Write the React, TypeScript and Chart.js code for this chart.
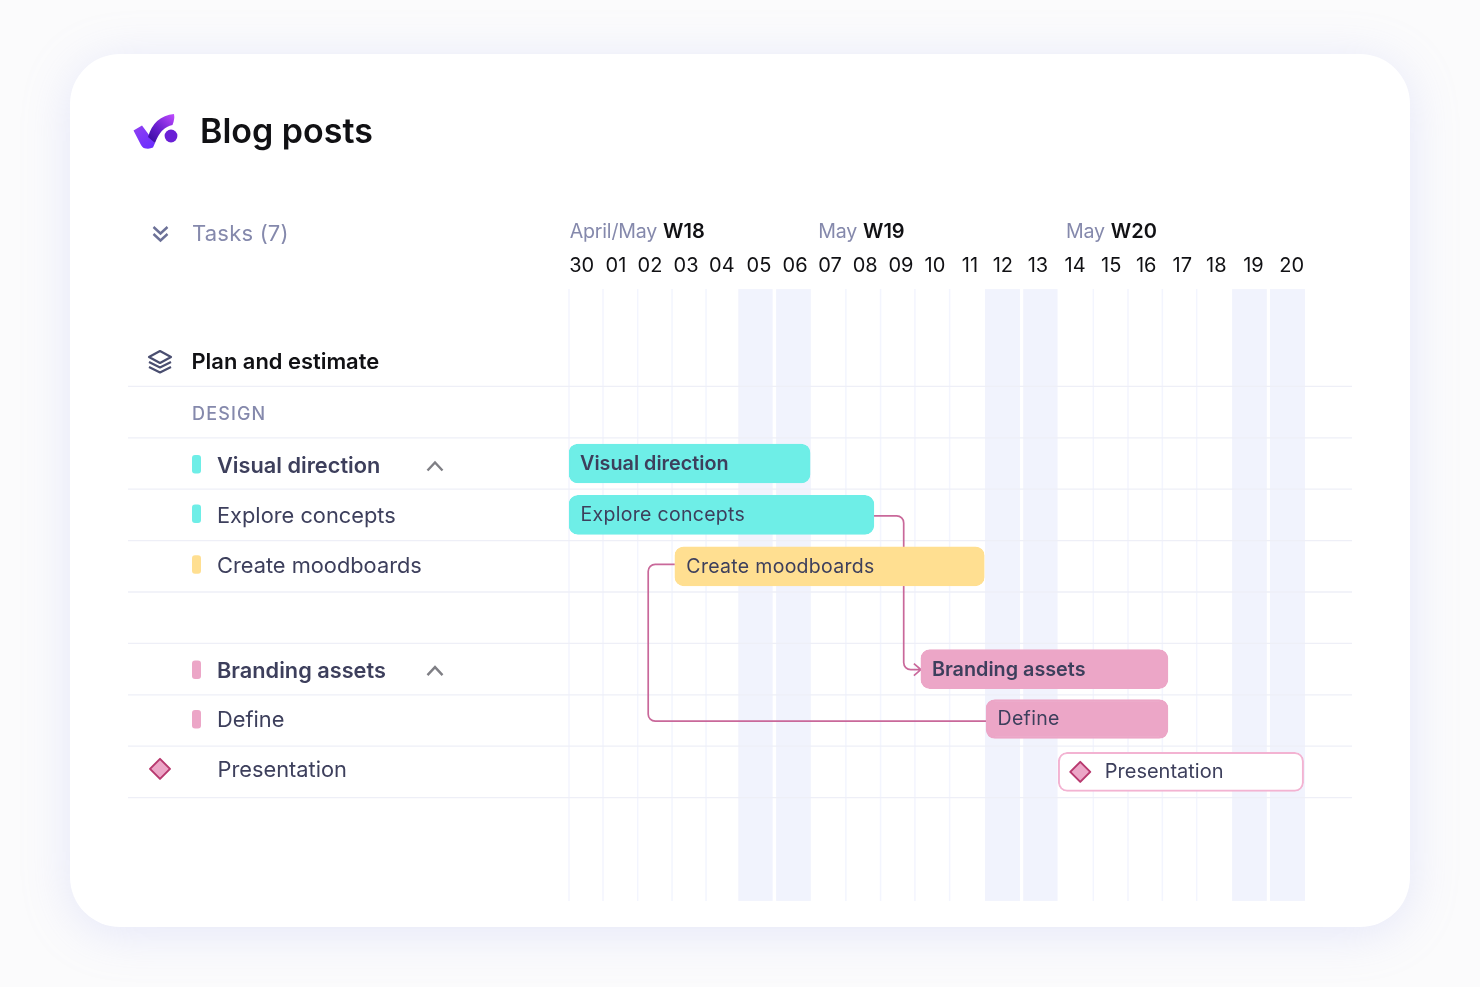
import React, { useEffect, useRef } from "react";
import { Chart, registerables } from "chart.js";

Chart.register(...registerables);

const rowLabels = ["", "Plan and estimate", "DESIGN", "Visual direction", "Explore concepts", "Create moodboards", "", "Branding assets", "Define", "Presentation", "", ""];
const rowKinds = ["none", "section", "caps", "group", "task", "task", "none", "group", "task", "milestone", "none", "none"];
const barRanges: ([number, number] | null)[] = [null, null, null, [0, 6.88], [0, 8.7], [3.02, 11.85], null, [10.04, 17.09], [11.9, 17.09], [13.96, 20.96], null, null];
const rowColors = ["", "", "", "#6eeee7", "#6eeee7", "#ffdf91", "", "#eca6c7", "#eca6c7", "#ffffff", "", ""];
const dayLabels = ["30", "01", "02", "03", "04", "05", "06", "07", "08", "09", "10", "11", "12", "13", "14", "15", "16", "17", "18", "19", "20"];
const dayTickValues = [0.36, 1.34, 2.31, 3.34, 4.36, 5.42, 6.45, 7.45, 8.45, 9.47, 10.44, 11.44, 12.38, 13.38, 14.44, 15.47, 16.47, 17.5, 18.47, 19.53, 20.62];
const gridDays = [0, 0.97, 1.96, 2.94, 3.91, 7.9, 8.89, 9.87, 10.86, 14.96, 15.95, 16.93, 17.91];
const weekendBands = [[4.83, 5.81], [5.91, 6.9], [11.87, 12.87], [12.96, 13.94], [18.92, 19.91], [20.0, 21.0]];
const rowRules = [1, 2, 3, 4, 5, 6, 7, 8, 9];
const weekHeaders = [
  { month: "April/May", week: "W18", at: 0.02 },
  { month: "May", week: "W19", at: 7.11 },
  { month: "May", week: "W20", at: 14.18 },
];

const FONT = "Inter, 'Noto Sans', sans-serif";
const INK = "#3d3f5c";
const MUTED = "#8589ac";
const LINK = "#c9689a";

function text(ctx: any, s: string, x: number, y: number, font: string, color: string, spacing = 0) {
  ctx.save();
  ctx.font = font;
  ctx.fillStyle = color;
  ctx.textAlign = "left";
  ctx.textBaseline = "middle";
  ctx.letterSpacing = spacing + "px";
  ctx.fillText(s, x, y);
  ctx.restore();
}

function diamond(ctx: any, cx: number, cy: number) {
  const r = 10;
  ctx.save();
  ctx.beginPath();
  ctx.moveTo(cx, cy - r);
  ctx.lineTo(cx + r, cy);
  ctx.lineTo(cx, cy + r);
  ctx.lineTo(cx - r, cy);
  ctx.closePath();
  ctx.lineJoin = "round";
  ctx.fillStyle = "#eca6c7";
  ctx.strokeStyle = "#b8396f";
  ctx.lineWidth = 2;
  ctx.fill();
  ctx.stroke();
  ctx.restore();
}

function chevronUp(ctx: any, cx: number, cy: number) {
  ctx.save();
  ctx.beginPath();
  ctx.moveTo(cx - 7.5, cy + 4.5);
  ctx.lineTo(cx, cy - 3.5);
  ctx.lineTo(cx + 7.5, cy + 4.5);
  ctx.strokeStyle = "#7f7f85";
  ctx.lineWidth = 2.4;
  ctx.stroke();
  ctx.restore();
}

function drawLogo(ctx: any) {
  ctx.save();
  const limb = ctx.createLinearGradient(135, 128, 150, 150);
  limb.addColorStop(0, "#8d3ff2");
  limb.addColorStop(1, "#6a2cff");
  ctx.beginPath();
  ctx.moveTo(133.5, 130.5);
  ctx.lineTo(142, 125.5);
  ctx.lineTo(155, 143);
  ctx.lineTo(153, 147.5);
  ctx.quadraticCurveTo(150, 149, 146, 148.5);
  ctx.quadraticCurveTo(143, 148.5, 141, 145);
  ctx.closePath();
  ctx.fillStyle = limb;
  ctx.fill();
  const rise = ctx.createLinearGradient(150, 143, 175, 115);
  rise.addColorStop(0, "#340a9c");
  rise.addColorStop(0.45, "#6a1fd0");
  rise.addColorStop(1, "#c04bff");
  ctx.beginPath();
  ctx.moveTo(148, 137);
  ctx.quadraticCurveTo(154, 116, 174, 114);
  ctx.quadraticCurveTo(175, 119, 172.5, 125);
  ctx.quadraticCurveTo(161, 127, 155, 143);
  ctx.closePath();
  ctx.fillStyle = rise;
  ctx.fill();
  ctx.beginPath();
  ctx.arc(171, 136, 6.4, 0, Math.PI * 2);
  ctx.fillStyle = "#6a20d6";
  ctx.fill();
  ctx.restore();
}

function drawHeaderIcons(ctx: any) {
  ctx.save();
  ctx.strokeStyle = "#6c7197";
  ctx.lineWidth = 2.4;
  for (const y of [227, 234]) {
    ctx.beginPath();
    ctx.moveTo(153.5, y);
    ctx.lineTo(160.5, y + 6.5);
    ctx.lineTo(167.5, y);
    ctx.stroke();
  }
  ctx.strokeStyle = "#4a4e70";
  ctx.lineWidth = 2.2;
  ctx.lineJoin = "round";
  ctx.beginPath();
  ctx.moveTo(160, 351);
  ctx.lineTo(171, 357);
  ctx.lineTo(160, 363);
  ctx.lineTo(149, 357);
  ctx.closePath();
  ctx.stroke();
  for (const y of [362, 367]) {
    ctx.beginPath();
    ctx.moveTo(149, y);
    ctx.lineTo(160, y + 5.5);
    ctx.lineTo(171, y);
    ctx.stroke();
  }
  ctx.restore();
}

const ganttDecor = {
  id: "ganttDecor",
  afterDatasetsUpdate(chart: any) {
    const bar = chart.getDatasetMeta(0).data[8];
    if (bar) bar.y -= 1.5;
  },
  beforeDatasetsDraw(chart: any) {
    const { ctx, scales } = chart;
    const { x, y } = scales;
    const half = (y.getPixelForValue(1) - y.getPixelForValue(0)) / 2;
    const bandTop = y.top + 5.5;
    const bandBottom = y.bottom + 0.5;

    ctx.save();
    ctx.fillStyle = "#f1f3fd";
    for (const [a, b] of weekendBands) {
      ctx.fillRect(x.getPixelForValue(a), bandTop, x.getPixelForValue(b) - x.getPixelForValue(a), bandBottom - bandTop);
    }
    ctx.strokeStyle = "#f3f5fe";
    ctx.lineWidth = 1.5;
    for (const d of gridDays) {
      const px = x.getPixelForValue(d);
      ctx.beginPath();
      ctx.moveTo(px, bandTop);
      ctx.lineTo(px, bandBottom);
      ctx.stroke();
    }
    ctx.strokeStyle = "#eeeff7";
    ctx.lineWidth = 1.3;
    for (const r of rowRules) {
      const py = y.getPixelForValue(r) + half;
      ctx.beginPath();
      ctx.moveTo(128, py);
      ctx.lineTo(1352, py);
      ctx.stroke();
    }

    ctx.strokeStyle = LINK;
    ctx.lineWidth = 1.7;
    const yExplore = y.getPixelForValue(4) + 1;
    const yBrand = y.getPixelForValue(7) + 0.5;
    const xElbow = x.getPixelForValue(9.55);
    const xBrand = x.getPixelForValue(10.04);
    ctx.beginPath();
    ctx.moveTo(x.getPixelForValue(8.7), yExplore);
    ctx.arcTo(xElbow, yExplore, xElbow, yBrand, 7);
    ctx.arcTo(xElbow, yBrand, xBrand, yBrand, 7);
    ctx.lineTo(xBrand, yBrand);
    ctx.moveTo(xBrand - 7, yBrand - 6);
    ctx.lineTo(xBrand, yBrand);
    ctx.lineTo(xBrand - 7, yBrand + 6);
    ctx.stroke();

    const yCreate = y.getPixelForValue(5) - 2;
    const yDefine = y.getPixelForValue(8) + 0.7;
    const xLeft = x.getPixelForValue(2.26);
    ctx.beginPath();
    ctx.moveTo(x.getPixelForValue(3.02), yCreate);
    ctx.arcTo(xLeft, yCreate, xLeft, yDefine, 7);
    ctx.arcTo(xLeft, yDefine, x.getPixelForValue(11.9), yDefine, 7);
    ctx.lineTo(x.getPixelForValue(11.9), yDefine);
    ctx.stroke();
    ctx.restore();
  },
  afterDatasetsDraw(chart: any) {
    const { ctx, scales } = chart;
    const { x, y } = scales;

    drawLogo(ctx);
    text(ctx, "Blog posts", 200, 133, `600 34px ${FONT}`, "#111114");
    drawHeaderIcons(ctx);
    text(ctx, "Tasks (7)", 192, 234.5, `400 22px ${FONT}`, MUTED, 0.2);

    for (const h of weekHeaders) {
      const px = x.getPixelForValue(h.at);
      text(ctx, h.month, px, 232, `400 19.6px ${FONT}`, MUTED, -0.2);
      ctx.save();
      ctx.font = `400 19.6px ${FONT}`;
      ctx.letterSpacing = "-0.2px";
      const w = ctx.measureText(h.month).width;
      ctx.restore();
      text(ctx, h.week, px + w + 6, 232, `600 20px ${FONT}`, "#111114");
    }

    rowLabels.forEach((label, i) => {
      const kind = rowKinds[i];
      const py = y.getPixelForValue(i);
      const firstGroup = i === 3;
      const firstTask = i === 4;
      if (kind === "section") text(ctx, label, 191.5, py + 1.5, `600 21.9px ${FONT}`, "#111114");
      if (kind === "caps") text(ctx, label, 192, py + 2.5, `500 18px ${FONT}`, MUTED, 1.15);
      if (kind === "group") {
        text(ctx, label, 217, py + (firstGroup ? 3 : 2), `600 21.75px ${FONT}`, INK);
        chevronUp(ctx, 435, py + (firstGroup ? 2.5 : 1.5));
      }
      if (kind === "task") text(ctx, label, 217, py + (firstTask ? 2 : 0), `400 21.8px ${FONT}`, INK);
      if (kind === "milestone") text(ctx, label, 217.5, py - 1, `400 21.8px ${FONT}`, INK);
      if (kind === "group" || kind === "task") {
        ctx.save();
        ctx.fillStyle = rowColors[i];
        ctx.beginPath();
        const top = kind === "group" ? -8.5 : i === 5 ? -11 : -10.5;
        ctx.roundRect(192, py + top, 9, 18.5, 3);
        ctx.fill();
        ctx.restore();
      }
      if (kind === "milestone") diamond(ctx, 160, py - 3);

      const range = barRanges[i];
      if (range) {
        const bx = x.getPixelForValue(range[0]);
        if (kind === "group") text(ctx, label, bx + 11, py + (firstGroup ? 0.5 : 1), `600 19.8px ${FONT}`, INK);
        if (kind === "task") text(ctx, label, bx + 11.5, py + (i === 8 ? -1.5 : 0.5), `400 19.5px ${FONT}`, INK, 0.3);
        if (kind === "milestone") {
          diamond(ctx, bx + 22, py);
          text(ctx, label, bx + 46.5, py, `400 20px ${FONT}`, INK);
        }
      }
    });
  },
};

export default function App() {
  const ref = useRef<HTMLCanvasElement | null>(null);

  useEffect(() => {
    document.documentElement.style.overflow = "hidden";
    document.body.style.background = "#fbfbfc";
    const chart = new Chart(ref.current as HTMLCanvasElement, {
      type: "bar",
      plugins: [ganttDecor],
      data: {
        labels: rowLabels,
        datasets: [
          {
            data: barRanges as any,
            backgroundColor: rowColors,
            borderColor: rowColors.map((c) => (c === "#ffffff" ? "#f3b3d2" : c)),
            borderWidth: 2,
            borderSkipped: false,
            borderRadius: 9,
            barThickness: 39,
          },
        ],
      },
      options: {
        indexAxis: "y",
        animation: false,
        responsive: false,
        devicePixelRatio: 1,
        layout: { padding: { left: 569, right: 175, top: 240, bottom: 86.6 } },
        plugins: { legend: { display: false }, tooltip: { enabled: false }, title: { display: false } },
        scales: {
          x: {
            type: "linear",
            position: "top",
            min: 0,
            max: 21,
            grid: { display: false },
            border: { display: false },
            afterBuildTicks: (scale: any) => {
              scale.ticks = dayTickValues.map((value) => ({ value }));
            },
            afterFit: (scale: any) => {
              scale.height = 43.6;
            },
            ticks: {
              autoSkip: false,
              maxRotation: 0,
              minRotation: 0,
              padding: -2,
              color: "#111114",
              font: { family: FONT, size: 20, weight: "400" },
              callback: (_v: any, i: number) => dayLabels[i],
            },
          },
          y: { display: false, type: "category", grid: { display: false } },
        },
      } as any,
    });
    return () => chart.destroy();
  }, []);

  return (
    <div style={{ position: "fixed", left: 0, top: 0, width: 1480, height: 987, background: "#fbfbfc", overflow: "hidden" }}>
      <div
        style={{
          position: "absolute",
          left: 70,
          top: 54,
          width: 1340,
          height: 873,
          borderRadius: 50,
          background: "#ffffff",
          boxShadow: "0 6px 48px rgba(165,175,240,0.26)",
        }}
      />
      <canvas ref={ref} width={1480} height={987} style={{ position: "absolute", left: 0, top: 0, width: 1480, height: 987 }} />
    </div>
  );
}
